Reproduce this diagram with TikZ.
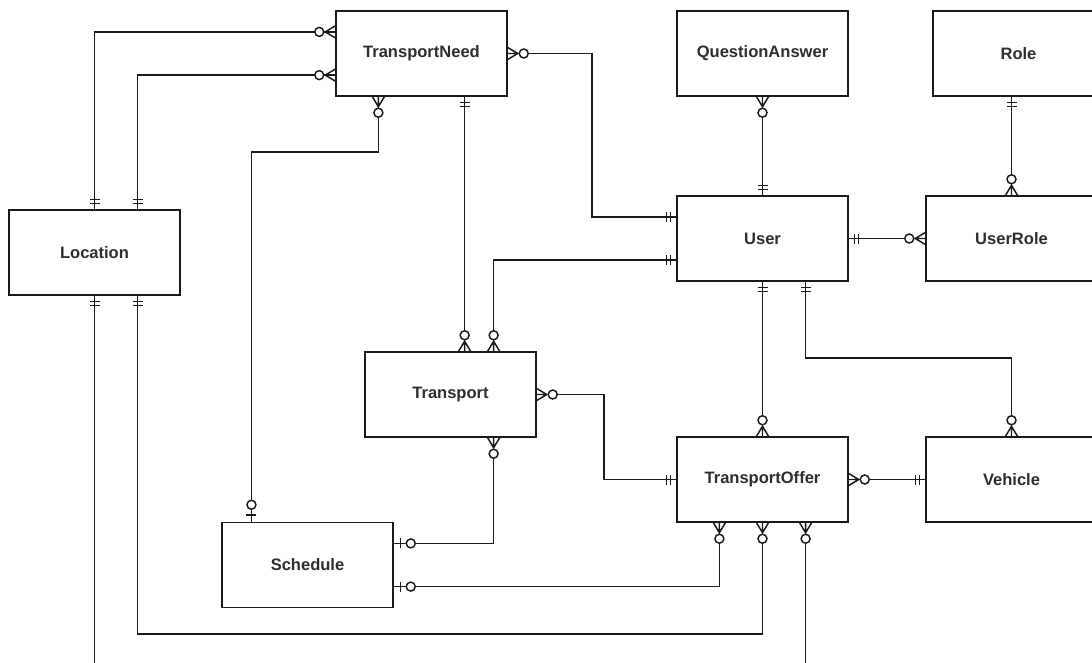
\documentclass[tikz,border=0pt]{standalone}
\usepackage{fontspec}
\setmainfont{Liberation Sans}
\usetikzlibrary{calc}
\definecolor{inkc}{HTML}{1A1A1A}
\definecolor{labelc}{HTML}{2E2E2E}
\tikzset{
  entity/.style={draw=inkc, line width=1.1pt, fill=white, minimum width=128.25pt,
    minimum height=63.75pt, inner sep=0pt, text=labelc,
    font=\bfseries\fontsize{12.4}{14}\selectfont},
  link/.style={draw=inkc, line width=1.1pt},
  % relationship ends, drawn outward along +x from the entity edge
  mandone/.pic={\draw[link] (6,-5)--(6,5) (10,-5)--(10,5);},
  zeromany/.pic={\draw[link] (0,-6)--(10,0)--(0,6) (0,0)--(10,0);
                 \draw[link, fill=white] (16,0) circle (4.5);},
  zeroone/.pic={\draw[link] (7,-5)--(7,5);
                \draw[link, fill=white] (17,0) circle (4.5);}
}
\begin{document}
\begin{tikzpicture}[x=0.75pt, y=-0.75pt]
\useasboundingbox (0,0) rectangle (1092,663);
\clip (0,0) rectangle (1092,663);

% entities
\node[entity] (tn)   at (421.5, 53.5)  {TransportNeed};
\node[entity] (qa)   at (762.5, 53.5)  {QuestionAnswer};
\node[entity] (role) at (1018.5, 53.5) {Role};
\node[entity] (loc)  at (94.5, 252.5)  {Location};
\node[entity] (user) at (762.5, 238.5) {User};
\node[entity] (ur)   at (1011.5, 238.5){UserRole};
\node[entity] (tr)   at (450.5, 394.5) {Transport};
\node[entity] (to)   at (762.5, 479.5) {TransportOffer};
\node[entity] (veh)  at (1011.5, 479.5){Vehicle};
\node[entity] (sch)  at (307.5, 565)   {Schedule};

% attachment points on the entity edges
\coordinate (locN2) at ($(loc.north west)!0.75!(loc.north east)$);
\coordinate (locS2) at ($(loc.south west)!0.75!(loc.south east)$);
\coordinate (tnW1)  at ($(tn.north west)!0.25!(tn.south west)$);
\coordinate (tnW2)  at ($(tn.north west)!0.75!(tn.south west)$);
\coordinate (tnS1)  at ($(tn.south west)!0.25!(tn.south east)$);
\coordinate (tnS2)  at ($(tn.south west)!0.75!(tn.south east)$);
\coordinate (trN1)  at (tnS2 |- tr.north);
\coordinate (trN2)  at ($(tr.north west)!0.75!(tr.north east)$);
\coordinate (trS)   at ($(tr.south west)!0.75!(tr.south east)$);
\coordinate (userW1) at ($(user.north west)!0.25!(user.south west)$);
\coordinate (userW2) at ($(user.north west)!0.75!(user.south west)$);
\coordinate (userS2) at ($(user.south west)!0.75!(user.south east)$);
\coordinate (roleS) at (ur.north |- role.south);
\coordinate (toS1)  at ($(to.south west)!0.25!(to.south east)$);
\coordinate (toS2)  at ($(to.south west)!0.75!(to.south east)$);
\coordinate (schN)  at ($(sch.north west)!0.175!(sch.north east)$);
\coordinate (schE1) at ($(sch.north east)!0.25!(sch.south east)$);
\coordinate (schE2) at ($(sch.north east)!0.75!(sch.south east)$);

% routing levels
\coordinate (xa) at (592, 135);
\coordinate (xb) at (604, 430);
\coordinate (yb) at (0, 152);
\coordinate (yc) at (0, 358);
\coordinate (yd) at (0, 634);
\coordinate (ye) at (0, 700);

% connectors
\draw[link] (loc.north) |- (tnW1);
\draw[link] (locN2) |- (tnW2);
\draw[link] (tn.east) -| (xa) |- (userW1);
\draw[link] (tnS1) -- (tnS1 |- yb) -| (schN);
\draw[link] (tnS2) -- (trN1);
\draw[link] (userW2) -| (trN2);
\draw[link] (qa.south) -- (user.north);
\draw[link] (roleS) -- (ur.north);
\draw[link] (user.east) -- (ur.west);
\draw[link] (user.south) -- (to.north);
\draw[link] (userS2) -- (userS2 |- yc) -| (veh.north);
\draw[link] (tr.east) -| (xb) |- (to.west);
\draw[link] (to.east) -- (veh.west);
\draw[link] (trS) |- (schE1);
\draw[link] (toS1) |- (schE2);
\draw[link] (to.south) -- (to.south |- yd) -| (locS2);
\draw[link] (toS2) -- (toS2 |- ye) -| (loc.south);

% relationship ends
\pic[rotate=90]  at (loc.north) {mandone};
\pic[rotate=90]  at (locN2) {mandone};
\pic[rotate=-90] at (loc.south) {mandone};
\pic[rotate=-90] at (locS2) {mandone};
\pic[rotate=180] at (tnW1) {zeromany};
\pic[rotate=180] at (tnW2) {zeromany};
\pic[rotate=0]   at (tn.east) {zeromany};
\pic[rotate=-90] at (tnS1) {zeromany};
\pic[rotate=-90] at (tnS2) {mandone};
\pic[rotate=90]  at (trN1) {zeromany};
\pic[rotate=90]  at (trN2) {zeromany};
\pic[rotate=0]   at (tr.east) {zeromany};
\pic[rotate=-90] at (trS) {zeromany};
\pic[rotate=180] at (userW1) {mandone};
\pic[rotate=180] at (userW2) {mandone};
\pic[rotate=90]  at (user.north) {mandone};
\pic[rotate=0]   at (user.east) {mandone};
\pic[rotate=-90] at (user.south) {mandone};
\pic[rotate=-90] at (userS2) {mandone};
\pic[rotate=-90] at (qa.south) {zeromany};
\pic[rotate=-90] at (roleS) {mandone};
\pic[rotate=90]  at (ur.north) {zeromany};
\pic[rotate=180] at (ur.west) {zeromany};
\pic[rotate=90]  at (to.north) {zeromany};
\pic[rotate=180] at (to.west) {mandone};
\pic[rotate=0]   at (to.east) {zeromany};
\pic[rotate=-90] at (toS1) {zeromany};
\pic[rotate=-90] at (to.south) {zeromany};
\pic[rotate=-90] at (toS2) {zeromany};
\pic[rotate=90]  at (veh.north) {zeromany};
\pic[rotate=180] at (veh.west) {mandone};
\pic[rotate=90]  at (schN) {zeroone};
\pic[rotate=0]   at (schE1) {zeroone};
\pic[rotate=0]   at (schE2) {zeroone};
\end{tikzpicture}
\end{document}
